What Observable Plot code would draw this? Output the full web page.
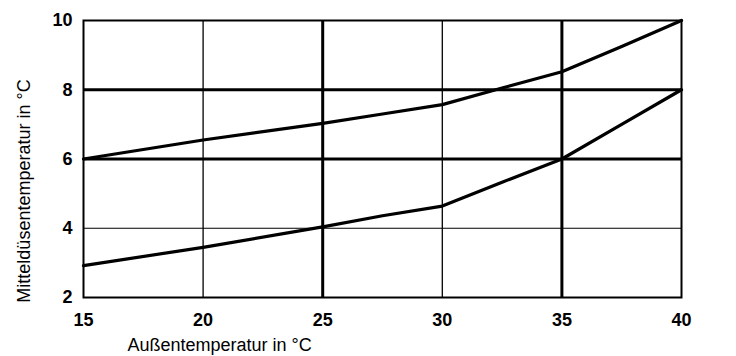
<!DOCTYPE html>
<html><head><meta charset="utf-8">
<script src="https://cdn.jsdelivr.net/npm/d3@7"></script>
<script src="https://cdn.jsdelivr.net/npm/@observablehq/plot@0.6"></script>
<style>body{margin:0;background:#fff}</style>
</head><body><div id="chart"></div>
<script>
const outsideTemp = [15, 20, 25, 27.5, 30, 32.5, 35, 37.5, 40];
const upperCurve = [6.0, 6.55, 7.03, 7.3, 7.57, 8.05, 8.52, 9.25, 10.0];
const lowerCurve = [2.92, 3.45, 4.04, 4.36, 4.64, 5.33, 6.0, 7.0, 8.0];
const xTicks = [15, 20, 25, 30, 35, 40];
const yTicks = [2, 4, 6, 8, 10];
const gridXThin = [20, 30];
const gridXThick = [25, 35];
const gridYThin = [4];
const gridYThick = [6, 8];
const xLabel = "Außentemperatur in °C";
const yLabel = "Mitteldüsentemperatur in °C";

const rows = [];
outsideTemp.forEach((x, i) => {
  rows.push({x, y: upperCurve[i], s: "upper"});
  rows.push({x, y: lowerCurve[i], s: "lower"});
});

const font = "Liberation Sans, Arial, sans-serif";
const chart = Plot.plot({
  width: 736, height: 356,
  marginLeft: 83, marginRight: 55, marginTop: 20, marginBottom: 59,
  style: {fontFamily: font, background: "#fff", color: "#000"},
  x: {domain: [15, 40]},
  y: {domain: [2, 10]},
  marks: [
    Plot.ruleX(gridXThin, {stroke: "#000", strokeWidth: 1.3}),
    Plot.ruleX(gridXThick, {stroke: "#000", strokeWidth: 3}),
    Plot.ruleY(gridYThin, {stroke: "#000", strokeWidth: 1}),
    Plot.ruleY(gridYThick, {stroke: "#000", strokeWidth: 3}),
    Plot.frame({stroke: "#000", strokeWidth: 2}),
    Plot.line(rows, {x: "x", y: "y", z: "s", stroke: "#000", strokeWidth: 3.2}),
    Plot.axisX(xTicks, {tickSize: 0, tickPadding: 16, fontSize: 18, fontWeight: "bold", label: null, fill: "#000"}),
    Plot.axisY(yTicks, {tickSize: 0, tickPadding: 11, fontSize: 18, fontWeight: "bold", label: null, fill: "#000"}),
    Plot.text([xLabel], {frameAnchor: "bottom-left", dx: 44, dy: 53, textAnchor: "start", lineAnchor: "bottom", fontSize: 18, fill: "#000"}),
    Plot.text([yLabel], {frameAnchor: "left", dx: -59, dy: 32, rotate: -90, textAnchor: "middle", lineAnchor: "middle", fontSize: 18, fill: "#000"})
  ]
});
document.getElementById("chart").append(chart);
</script>
</body></html>
